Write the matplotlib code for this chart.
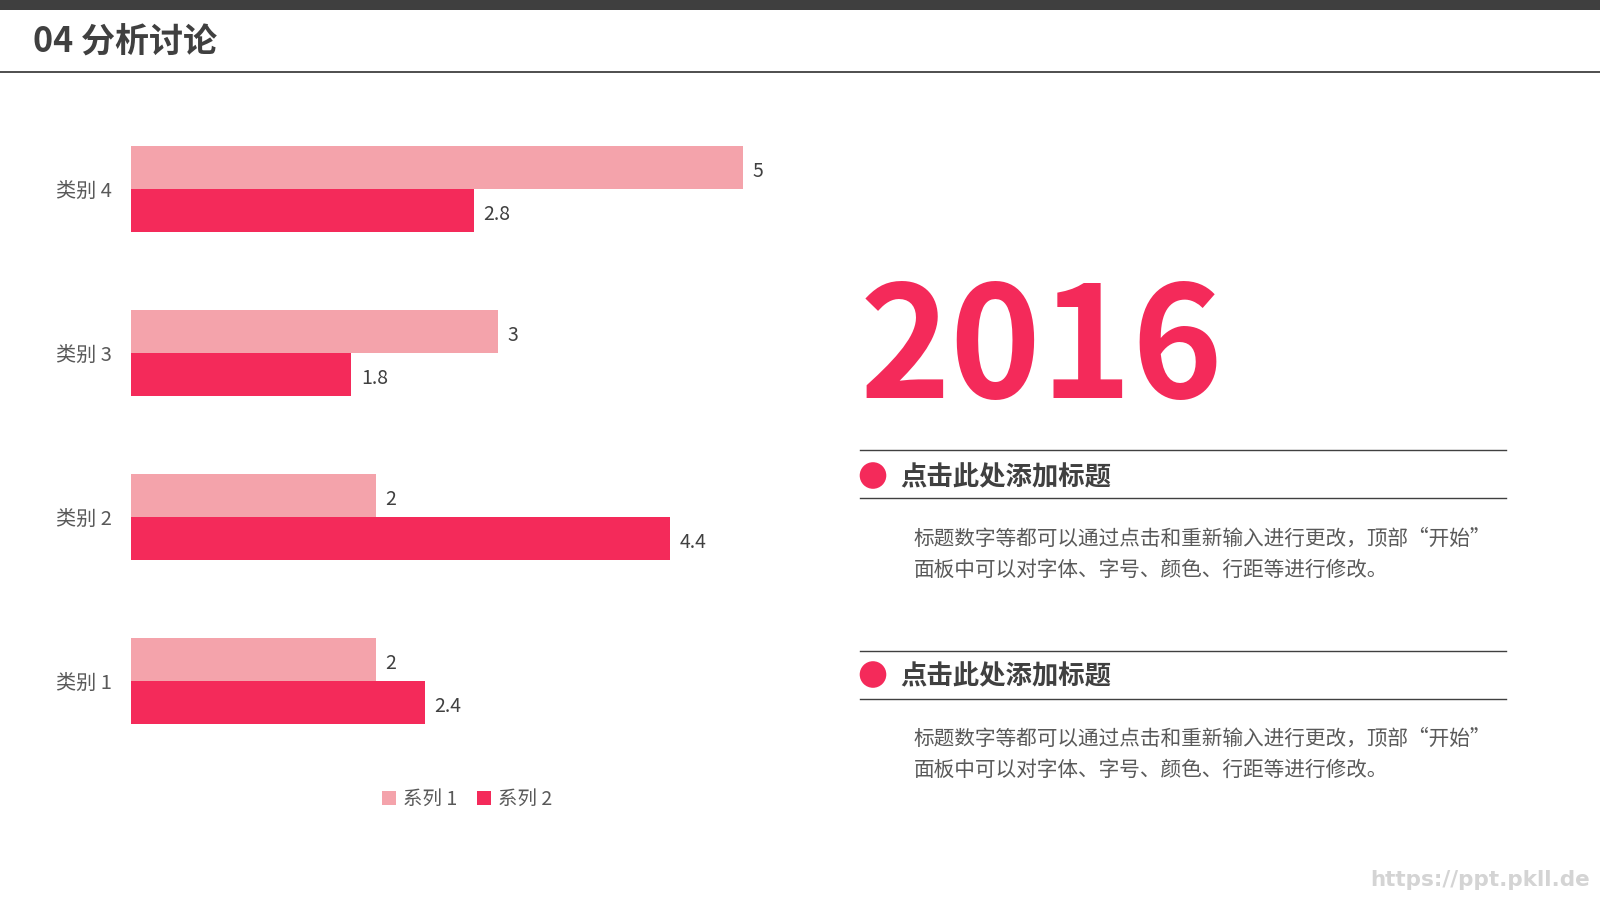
import matplotlib
matplotlib.use("Agg")
import matplotlib.pyplot as plt
from matplotlib.patches import Rectangle, Ellipse
from matplotlib.lines import Line2D
import numpy as np

plt.rcParams['font.family'] = ['Noto Sans CJK SC', 'DejaVu Sans']

# ---- data ----
categories = ["类别 1", "类别 2", "类别 3", "类别 4"]
series_names = ["系列 1", "系列 2"]
series1 = [2, 2, 3, 5]
series2 = [2.4, 4.4, 1.8, 2.8]
series1_labels = ["2", "2", "3", "5"]
series2_labels = ["2.4", "4.4", "1.8", "2.8"]

title_text = "04 分析讨论"
year_text = "2016"
heading_text = "点击此处添加标题"
para_lines = ["标题数字等都可以通过点击和重新输入进行更改，顶部“开始”",
              "面板中可以对字体、字号、颜色、行距等进行修改。"]
watermark = "https://ppt.pkll.de"

c_light = "#F4A3AB"
c_dark = "#F42A5A"
c_text = "#404040"
c_gray = "#595959"

W, H = 1600, 900
fig = plt.figure(figsize=(16, 9), dpi=100)
fig.patch.set_facecolor("white")

def fx(px):
    return px / W

def fy(py):
    return 1 - py / H

# top dark band and title line
fig.add_artist(Rectangle((0, fy(10)), 1, 10 / H, transform=fig.transFigure,
                         color="#3F3F3F", lw=0))
fig.add_artist(Line2D([0, 1], [fy(72), fy(72)], transform=fig.transFigure,
                      color="#404040", lw=1.3))
fig.text(fx(33), fy(42), title_text, fontsize=24.5, fontweight="bold",
         color=c_text, ha="left", va="center")

# ---- bar chart ----
x0 = 131
ppu = 122.4
xmax = 5.5
y_top, y_bot = 107, 763
ax = fig.add_axes([fx(x0), fy(y_bot), xmax * ppu / W, (y_bot - y_top) / H])
y = np.arange(len(categories))
h = 0.262
b1 = ax.barh(y + h / 2, series1, height=h, color=c_light, label=series_names[0])
b2 = ax.barh(y - h / 2, series2, height=h, color=c_dark, label=series_names[1])
lab1 = ax.bar_label(b1, labels=series1_labels, padding=7, fontsize=14, color=c_text)
lab2 = ax.bar_label(b2, labels=series2_labels, padding=7, fontsize=14, color=c_text)
for t in list(lab1) + list(lab2):
    t.xyann = (7, -3)
ax.set_xlim(0, xmax)
ax.set_ylim(-0.5, len(categories) - 0.5)
ax.set_yticks(y)
ax.set_yticklabels(categories, fontsize=14.5, color=c_gray)
ax.tick_params(axis="y", length=0, pad=14)
for t in ax.get_yticklabels():
    t.set_y(t.get_position()[1])
ax.set_xticks([])
for s in ax.spines.values():
    s.set_visible(False)
ax.patch.set_alpha(0)

leg = fig.legend(handles=[b1, b2], labels=series_names, loc="center",
                 bbox_to_anchor=(fx(467), fy(799)), ncol=2, frameon=False,
                 fontsize=14, handlelength=0.75, handleheight=0.75,
                 handletextpad=0.35, columnspacing=1.0)
for t in leg.get_texts():
    t.set_color(c_gray)

# ---- right side text ----
fig.text(fx(860), fy(398), year_text, fontsize=111, fontweight="bold",
         color=c_dark, ha="left", va="baseline")

for (l1, l2, hy, p1, p2) in [(450, 498, 477.5, 539, 570),
                             (651, 699, 676.5, 739, 770)]:
    for ly in (l1, l2):
        fig.add_artist(Line2D([fx(860), fx(1506)], [fy(ly), fy(ly)],
                              transform=fig.transFigure, color="#404040", lw=1.0))
    r = 13.3
    fig.add_artist(Ellipse((fx(873), fy(hy - 2)), 2 * r / W, 2 * r / H,
                           transform=fig.transFigure, color=c_dark, lw=0))
    fig.text(fx(900), fy(hy), heading_text, fontsize=19, fontweight="bold",
             color=c_text, ha="left", va="center")
    fig.text(fx(914), fy(p1), para_lines[0], fontsize=14.9, color=c_gray,
             ha="left", va="center")
    fig.text(fx(914), fy(p2), para_lines[1], fontsize=14.9, color=c_gray,
             ha="left", va="center")

fig.text(fx(1590), fy(880), watermark, fontsize=15.5, fontweight="bold",
         color="#D4D4D4", ha="right", va="center", family="DejaVu Sans")

fig.savefig("out.png", dpi=100)
